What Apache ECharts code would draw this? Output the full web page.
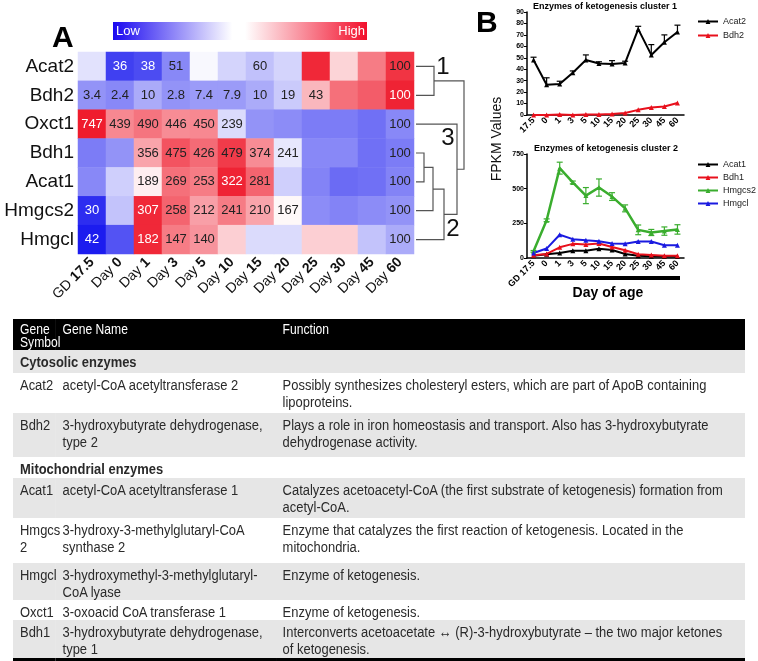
<!DOCTYPE html>
<html>
<head>
<meta charset="utf-8">
<title>Ketogenesis enzymes</title>
<script src="https://cdn.jsdelivr.net/npm/echarts@6.0.0/dist/echarts.min.js"></script>
<style>
  html, body { margin: 0; padding: 0; background: #fff; overflow: hidden; }
  #chart { position: absolute; left: 0; top: 0; width: 758px; height: 320px; }
  /* narrow face is not installed: squeeze Liberation Sans to Arial Narrow widths */
  #tbl { position: absolute; left: 13px; top: 319px; width: 877px; border-collapse: collapse;
         table-layout: fixed;
         transform: scaleX(0.835); transform-origin: 0 0;
         font-family: "Liberation Sans", Arial, sans-serif;
         font-size: 15.5px; color: #2a2a2a; }
  #tbl td { vertical-align: top; padding: 3px 0 0 8.4px; line-height: 17px; white-space: nowrap; overflow: visible; }
  #tbl tr.head, #tbl tr.head td { background: #000; color: #fff; }
  #tbl tr.head td { line-height: 13px; padding-top: 4px; font-size: 14.5px; }
  #tbl tr.sec td { font-weight: bold; }
  #tbl tr.g, #tbl tr.g td { background: #e6e6e6; }
  #tbl tr.last td { border-bottom: 4px solid #000; }
</style>
</head>
<body>
<div id="chart"></div>
<table id="tbl"></table>
<script type="text/javascript">
// ---- heatmap (panel A) ----
var stages = ['GD 17.5', 'Day 0', 'Day 1', 'Day 3', 'Day 5', 'Day 10', 'Day 15', 'Day 20', 'Day 25', 'Day 30', 'Day 45', 'Day 60'];
var genes = ['Acat2', 'Bdh2', 'Oxct1', 'Bdh1', 'Acat1', 'Hmgcs2', 'Hmgcl'];

// colour score per cell (-1 low / blue .. +1 high / red)
var scoreAcat2  = [-0.12, -0.8, -0.75, -0.5, -0.03, -0.18, -0.26, -0.18, 0.9, 0.18, 0.55, 0.85];
var scoreBdh2   = [-0.45, -0.5, -0.35, -0.45, -0.42, -0.42, -0.35, -0.22, 0.3, 0.6, 0.68, 0.92];
var scoreOxct1  = [0.95, 0.5, 0.58, 0.48, 0.5, -0.15, -0.45, -0.48, -0.55, -0.55, -0.6, -0.5];
var scoreBdh1   = [-0.55, -0.45, 0.38, 0.72, 0.62, 0.82, 0.48, -0.1, -0.5, -0.5, -0.6, -0.55];
var scoreAcat1  = [-0.5, -0.2, 0.07, 0.6, 0.55, 0.92, 0.65, -0.2, -0.52, -0.62, -0.6, -0.52];
var scoreHmgcs2 = [-0.88, -0.25, 0.9, 0.65, 0.4, 0.55, 0.38, 0.03, -0.48, -0.52, -0.48, -0.45];
var scoreHmgcl  = [-0.95, -0.72, 0.9, 0.55, 0.45, 0.2, -0.15, -0.15, 0.2, 0.2, -0.25, -0.35];

// numbers printed in the cells (% of Day 60)
var txtAcat2  = ['', '36', '38', '51', '', '', '60', '', '', '', '', '100'];
var txtBdh2   = ['3.4', '2.4', '10', '2.8', '7.4', '7.9', '10', '19', '43', '', '', '100'];
var txtOxct1  = ['747', '439', '490', '446', '450', '239', '', '', '', '', '', '100'];
var txtBdh1   = ['', '', '356', '475', '426', '479', '374', '241', '', '', '', '100'];
var txtAcat1  = ['', '', '189', '269', '253', '322', '281', '', '', '', '', '100'];
var txtHmgcs2 = ['30', '', '307', '258', '212', '241', '210', '167', '', '', '', '100'];
var txtHmgcl  = ['42', '', '182', '147', '140', '', '', '', '', '', '', '100'];

// dendrogram merges: [left node, right node, height]; leaves are 0..6, new nodes 7..
var merges = [[3, 4, 8], [7, 5, 17], [8, 6, 28], [2, 9, 41], [0, 1, 18], [11, 10, 48]];

// ---- line charts (panel B) ----
var days1 = ['17.5', '0', '1', '3', '5', '10', '15', '20', '25', '30', '45', '60'];
var days2 = ['GD 17.5', '0', '1', '3', '5', '10', '15', '20', '25', '30', '45', '60'];
var acat2 = [48, 26.5, 27, 37, 48, 45, 44.5, 45.5, 75, 52.5, 63.5, 72.5];
var acat2Err = [2.5, 6, 2.5, 1.5, 4.5, 1.5, 3, 1.5, 2.5, 9, 6.5, 6];
var bdh2 = [0, 0, 0.5, 0, 0.5, 0.5, 0.8, 1.8, 4.5, 6.5, 7.5, 10.5];
var acat1 = [17, 27, 36, 53, 53, 66, 58, 29, 17, 12, 10, 10];
var bdh1 = [19, 29, 77, 102, 97, 104, 80, 56, 27, 22, 17, 17];
var hmgcs2 = [48, 272, 648, 545, 450, 508, 443, 358, 203, 184, 194, 206];
var hmgcs2Err = [6, 10, 43, 10, 58, 62, 28, 25, 35, 22, 30, 34];
var hmgcl = [36, 68, 168, 136, 128, 121, 104, 102, 119, 119, 92, 92];

// ---- table ----
var tableRows = [
  ['head', 'Gene<br>Symbol', 'Gene Name', 'Function'],
  ['sec', 'Cytosolic enzymes'],
  ['w', 'Acat2', 'acetyl-CoA acetyltransferase 2', 'Possibly synthesizes cholesteryl esters, which are part of ApoB containing<br>lipoproteins.', 40],
  ['g', 'Bdh2', '3-hydroxybutyrate dehydrogenase,<br>type 2', 'Plays a role in iron homeostasis and transport. Also has 3-hydroxybutyrate<br>dehydrogenase activity.', 44],
  ['sec', 'Mitochondrial enzymes'],
  ['g', 'Acat1', 'acetyl-CoA acetyltransferase 1', 'Catalyzes acetoacetyl-CoA (the first substrate of ketogenesis) formation from<br>acetyl-CoA.', 40],
  ['w', 'Hmgcs<br>2', '3-hydroxy-3-methylglutaryl-CoA<br>synthase 2', 'Enzyme that catalyzes the first reaction of ketogenesis. Located in the<br>mitochondria.', 45],
  ['g', 'Hmgcl', '3-hydroxymethyl-3-methylglutaryl-<br>CoA lyase', 'Enzyme of ketogenesis.', 34],
  ['w', 'Oxct1', '3-oxoacid CoA transferase 1', 'Enzyme of ketogenesis.', 20],
  ['g last', 'Bdh1', '3-hydroxybutyrate dehydrogenase,<br>type 1', 'Interconverts acetoacetate \u2194 (R)-3-hydroxybutyrate \u2013 the two major ketones<br>of ketogenesis.', 40]
];

// build table
var html = '<colgroup><col style="width:51px"><col style="width:263.5px"><col></colgroup>';
tableRows.forEach(function (r, i) {
  if (r[0] === 'head') {
    html += '<tr class="head" style="height:31px"><td>' + r[1] + '</td><td>' + r[2] + '</td><td>' + r[3] + '</td></tr>';
  } else if (r[0] === 'sec') {
    var cls = i === 1 ? 'sec g' : 'sec';
    html += '<tr class="' + cls + '" style="height:' + (i === 1 ? 23 : 21) + 'px"><td colspan="3">' + r[1] + '</td></tr>';
  } else {
    html += '<tr class="' + r[0] + '" style="height:' + r[4] + 'px"><td>' + r[1] + '</td><td>' + r[2] + '</td><td>' + r[3] + '</td></tr>';
  }
});
document.getElementById('tbl').innerHTML = html;

var scores = [scoreAcat2, scoreBdh2, scoreOxct1, scoreBdh1, scoreAcat1, scoreHmgcs2, scoreHmgcl];
var texts = [txtAcat2, txtBdh2, txtOxct1, txtBdh1, txtAcat1, txtHmgcs2, txtHmgcl];

var heatData = [];
for (var g = 0; g < genes.length; g++) {
  for (var s = 0; s < stages.length; s++) {
    var v = scores[g][s];
    heatData.push({
      value: [s, g, v],
      txt: texts[g][s],
      label: { color: (v <= -0.7 || v >= 0.88) ? '#fff' : '#222' }
    });
  }
}

function errSeries(xi, yi, color, mean, err, both) {
  return {
    type: 'custom',
    xAxisIndex: xi,
    yAxisIndex: yi,
    z: 1,
    data: mean.map(function (m, i) { return [i, both ? m - err[i] : m, m + err[i]]; }),
    renderItem: function (params, api) {
      var lo = api.coord([api.value(0), api.value(1)]);
      var hi = api.coord([api.value(0), api.value(2)]);
      var st = { stroke: color, lineWidth: 1.2 };
      var kids = [
        { type: 'line', shape: { x1: lo[0], y1: lo[1], x2: hi[0], y2: hi[1] }, style: st },
        { type: 'line', shape: { x1: hi[0] - 3, y1: hi[1], x2: hi[0] + 3, y2: hi[1] }, style: st }
      ];
      if (both) kids.push({ type: 'line', shape: { x1: lo[0] - 3, y1: lo[1], x2: lo[0] + 3, y2: lo[1] }, style: st });
      return { type: 'group', children: kids };
    }
  };
}

function lineSeries(name, xi, yi, color, data, w) {
  return {
    name: name, type: 'line', xAxisIndex: xi, yAxisIndex: yi, data: data,
    symbol: 'triangle', symbolSize: 5, showSymbol: true,
    lineStyle: { color: color, width: w }, itemStyle: { color: color }, z: 3
  };
}

var gpAxis = { lineStyle: { color: '#000', width: 1.5 } };

var myChart = echarts.init(document.getElementById('chart'));
var option = {
  animation: false,
  textStyle: { fontFamily: 'Liberation Sans, Arial, sans-serif' },
  grid: [
    { left: 78, top: 52, width: 336, height: 202 },
    { left: 416, top: 52, width: 50, height: 202 },
    { left: 527, top: 12, width: 157, height: 103 },
    { left: 527, top: 154, width: 157, height: 104 }
  ],
  xAxis: [
    {
      type: 'category', gridIndex: 0, data: stages,
      axisLine: { show: false }, axisTick: { show: false }, splitLine: { show: false },
      axisLabel: {
        rotate: 45, margin: 6, interval: 0, color: '#111', fontSize: 14,
        formatter: function (val) { var p = val.split(' '); return '{n|' + p[0] + '} {b|' + p[1] + '}'; },
        rich: { n: { fontSize: 14, color: '#111' }, b: { fontSize: 14, fontWeight: 'bold', color: '#111' } }
      }
    },
    { type: 'value', gridIndex: 1, min: 0, max: 50, show: false },
    {
      type: 'category', gridIndex: 2, data: days1, boundaryGap: true,
      axisLine: gpAxis, axisTick: { lineStyle: { color: '#000', width: 1.2 }, length: 3, alignWithLabel: true },
      axisLabel: { rotate: 45, margin: 4, interval: 0, fontSize: 9, fontWeight: 'bold', color: '#000' }
    },
    {
      type: 'category', gridIndex: 3, data: days2, boundaryGap: true,
      axisLine: gpAxis, axisTick: { lineStyle: { color: '#000', width: 1.2 }, length: 3, alignWithLabel: true },
      axisLabel: { rotate: 45, margin: 4, interval: 0, fontSize: 9, fontWeight: 'bold', color: '#000' }
    }
  ],
  yAxis: [
    {
      type: 'category', gridIndex: 0, data: genes, inverse: true,
      axisLine: { show: false }, axisTick: { show: false },
      axisLabel: { fontSize: 19, color: '#111', margin: 4 }
    },
    { type: 'category', gridIndex: 1, data: genes, inverse: true, show: false },
    {
      type: 'value', gridIndex: 2, min: 0, max: 90, interval: 10,
      axisLine: { show: true, lineStyle: { color: '#000', width: 1.5 } },
      axisTick: { show: true, length: 3, lineStyle: { color: '#000' } },
      splitLine: { show: false },
      axisLabel: { fontSize: 7, fontWeight: 'bold', color: '#000', margin: 3 }
    },
    {
      type: 'value', gridIndex: 3, min: 0, max: 750, interval: 250,
      axisLine: { show: true, lineStyle: { color: '#000', width: 1.5 } },
      axisTick: { show: true, length: 3, lineStyle: { color: '#000' } },
      splitLine: { show: false },
      axisLabel: { fontSize: 7, fontWeight: 'bold', color: '#000', margin: 3 }
    }
  ],
  visualMap: {
    show: false, min: -1, max: 1, dimension: 2, seriesIndex: 0,
    inRange: { color: ['#1010ee', '#ffffff', '#ee1022'] }
  },
  legend: [
    {
      data: ['Acat2', 'Bdh2'], orient: 'vertical', left: 692, top: 12,
      itemWidth: 20, itemHeight: 6, itemGap: 5,
      textStyle: { fontSize: 9, color: '#222' }
    },
    {
      data: ['Acat1', 'Bdh1', 'Hmgcs2', 'Hmgcl'], orient: 'vertical', left: 692, top: 155,
      itemWidth: 20, itemHeight: 6, itemGap: 4,
      textStyle: { fontSize: 9, color: '#222' }
    }
  ],
  series: [
    {
      type: 'heatmap', xAxisIndex: 0, yAxisIndex: 0, data: heatData,
      label: { show: true, fontSize: 13, formatter: function (p) { return p.data.txt; } },
      itemStyle: { borderWidth: 0 }
    },
    {
      type: 'custom', xAxisIndex: 1, yAxisIndex: 1, data: [[0, 0]],
      renderItem: function (params, api) {
        var pos = [];
        for (var i = 0; i < genes.length; i++) pos.push(api.coord([0, i]));
        var kids = [];
        var st = { stroke: '#555', lineWidth: 1.2, fill: null };
        merges.forEach(function (m) {
          var a = pos[m[0]], b = pos[m[1]];
          var x = api.coord([m[2], 0])[0];
          kids.push({ type: 'polyline', shape: { points: [[a[0], a[1]], [x, a[1]], [x, b[1]], [b[0], b[1]]] }, style: st });
          pos.push([x, (a[1] + b[1]) / 2]);
        });
        return { type: 'group', children: kids };
      }
    },
    lineSeries('Acat2', 2, 2, '#000', acat2, 2),
    lineSeries('Bdh2', 2, 2, '#e8101c', bdh2, 2),
    errSeries(2, 2, '#000', acat2, acat2Err, false),
    lineSeries('Acat1', 3, 3, '#000', acat1, 2),
    lineSeries('Bdh1', 3, 3, '#e8101c', bdh1, 2),
    lineSeries('Hmgcs2', 3, 3, '#3aad2e', hmgcs2, 2.5),
    lineSeries('Hmgcl', 3, 3, '#1a1ae0', hmgcl, 2),
    errSeries(3, 3, '#3aad2e', hmgcs2, hmgcs2Err, true)
  ],
  graphic: [
    { type: 'text', left: 52, top: 24, style: { text: 'A', fontSize: 30, fontWeight: 'bold', fill: '#000', fontFamily: 'Liberation Sans, Arial' } },
    { type: 'text', left: 476, top: 9, style: { text: 'B', fontSize: 30, fontWeight: 'bold', fill: '#000', fontFamily: 'Liberation Sans, Arial' } },
    {
      type: 'rect', shape: { x: 113, y: 22, width: 254, height: 18 },
      style: {
        fill: new echarts.graphic.LinearGradient(0, 0, 1, 0, [
          { offset: 0, color: '#1a08f0' }, { offset: 0.47, color: '#ffffff' },
          { offset: 0.52, color: '#ffffff' }, { offset: 1, color: '#f2102c' }
        ])
      }
    },
    { type: 'text', x: 116, y: 31, style: { text: 'Low', fontSize: 13, fill: '#fff', verticalAlign: 'middle' } },
    { type: 'text', x: 365, y: 31, style: { text: 'High', fontSize: 13, fill: '#fff', align: 'right', verticalAlign: 'middle' } },
    { type: 'text', x: 443, y: 67, style: { text: '1', fontSize: 24, fill: '#111', align: 'center', verticalAlign: 'middle' } },
    { type: 'text', x: 448, y: 138, style: { text: '3', fontSize: 24, fill: '#111', align: 'center', verticalAlign: 'middle' } },
    { type: 'text', x: 453, y: 229, style: { text: '2', fontSize: 24, fill: '#111', align: 'center', verticalAlign: 'middle' } },
    { type: 'text', x: 605, y: 7, style: { text: 'Enzymes of ketogenesis cluster 1', fontSize: 9, fontWeight: 'bold', fill: '#000', align: 'center', verticalAlign: 'middle' } },
    { type: 'text', x: 606, y: 149, style: { text: 'Enzymes of ketogenesis cluster 2', fontSize: 9, fontWeight: 'bold', fill: '#000', align: 'center', verticalAlign: 'middle' } },
    { type: 'text', x: 497, y: 139, rotation: Math.PI / 2, style: { text: 'FPKM Values', fontSize: 14, fill: '#111', align: 'center', verticalAlign: 'middle' } },
    { type: 'rect', shape: { x: 539, y: 276, width: 141, height: 4 }, style: { fill: '#000' } },
    { type: 'text', x: 608, y: 293, style: { text: 'Day of age', fontSize: 14, fontWeight: 'bold', fill: '#000', align: 'center', verticalAlign: 'middle' } }
  ]
};
myChart.setOption(option);
</script>
</body>
</html>
